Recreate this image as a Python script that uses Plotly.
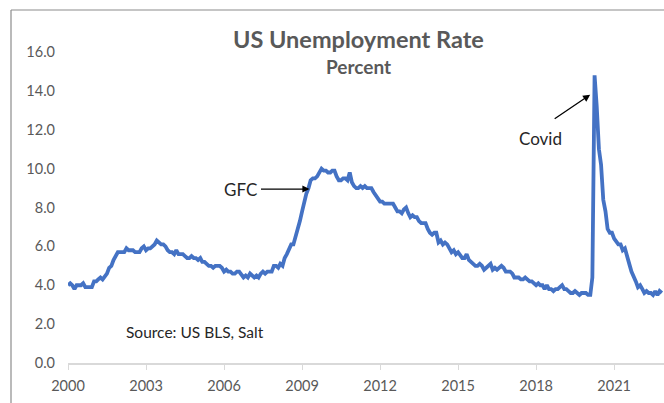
import pandas as pd
import plotly.graph_objects as go

# Monthly US unemployment rate (%), Jan 2000 - Nov 2022
rate_2000_2011 = [
    4.0, 4.1, 4.0, 3.8, 4.0, 4.0, 4.0, 4.1, 3.9, 3.9, 3.9, 3.9,
    4.2, 4.2, 4.3, 4.4, 4.3, 4.5, 4.6, 4.9, 5.0, 5.3, 5.5, 5.7,
    5.7, 5.7, 5.7, 5.9, 5.8, 5.8, 5.8, 5.7, 5.7, 5.7, 5.9, 6.0,
    5.8, 5.9, 5.9, 6.0, 6.1, 6.3, 6.2, 6.1, 6.1, 6.0, 5.8, 5.7,
    5.7, 5.6, 5.8, 5.6, 5.6, 5.6, 5.5, 5.4, 5.4, 5.5, 5.4, 5.4,
    5.3, 5.4, 5.2, 5.2, 5.1, 5.0, 5.0, 4.9, 5.0, 5.0, 5.0, 4.9,
    4.7, 4.8, 4.7, 4.7, 4.6, 4.6, 4.7, 4.7, 4.5, 4.4, 4.5, 4.4,
    4.6, 4.5, 4.4, 4.5, 4.4, 4.6, 4.7, 4.6, 4.7, 4.7, 4.7, 5.0,
    5.0, 4.9, 5.1, 5.0, 5.4, 5.6, 5.8, 6.1, 6.1, 6.5, 6.8, 7.3,
    7.8, 8.3, 8.7, 9.0, 9.4, 9.5, 9.5, 9.6, 9.8, 10.0, 9.9, 9.9,
    9.8, 9.8, 9.9, 9.9, 9.6, 9.4, 9.4, 9.5, 9.5, 9.4, 9.8, 9.3,
    9.1, 9.0, 9.0, 9.1, 9.0, 9.1, 9.0, 9.0, 9.0, 8.8, 8.6, 8.5,
]
rate_2012_2022 = [
    8.3, 8.3, 8.2, 8.2, 8.2, 8.2, 8.2, 8.0, 7.8, 7.8, 7.7, 7.9,
    8.0, 7.7, 7.5, 7.6, 7.5, 7.5, 7.3, 7.2, 7.2, 7.2, 6.9, 6.7,
    6.6, 6.7, 6.7, 6.2, 6.3, 6.1, 6.2, 6.1, 5.9, 5.7, 5.8, 5.6,
    5.7, 5.5, 5.4, 5.4, 5.6, 5.3, 5.2, 5.1, 5.0, 5.0, 5.1, 5.0,
    4.8, 4.9, 5.0, 5.1, 4.8, 4.9, 4.8, 4.9, 5.0, 4.9, 4.7, 4.7,
    4.7, 4.6, 4.4, 4.4, 4.4, 4.3, 4.3, 4.4, 4.3, 4.2, 4.2, 4.1,
    4.0, 4.1, 4.0, 4.0, 3.8, 4.0, 3.8, 3.8, 3.7, 3.8, 3.8, 3.9,
    4.0, 3.8, 3.8, 3.7, 3.6, 3.6, 3.7, 3.6, 3.5, 3.6, 3.6, 3.6,
    3.5, 3.5, 4.4, 14.8, 13.2, 11.0, 10.2, 8.4, 7.8, 6.9, 6.7, 6.7,
    6.4, 6.2, 6.1, 6.1, 5.8, 5.9, 5.4, 5.1, 4.7, 4.5, 4.2, 3.9,
    4.0, 3.8, 3.6, 3.7, 3.6, 3.6, 3.5, 3.7, 3.5, 3.7, 3.6,
]
rate = rate_2000_2011 + rate_2012_2022
months = pd.date_range("2000-01-01", periods=len(rate), freq="MS")

y_ticks = [0, 2, 4, 6, 8, 10, 12, 14, 16]
x_tick_years = [2000, 2003, 2006, 2009, 2012, 2015, 2018, 2021]

TITLE = "US Unemployment Rate"
SUBTITLE = "Percent"
SOURCE = "Source: US BLS, Salt"

W, H = 664, 403
L, R, T, B = 68, 0, 52, 40
FONT = "Lato, 'Open Sans', sans-serif"
GREY = "#595959"
INK = "#262626"


def px_x(px):
    return (px - L) / (W - L - R)


def px_y(py):
    return (H - B - py) / (H - T - B)


def label(px, py, text, size, color):
    fig.add_annotation(xref="paper", yref="paper", x=px_x(px), y=px_y(py),
                       xanchor="center", yanchor="middle",
                       text=text, showarrow=False,
                       font=dict(size=size, color=color))


fig = go.Figure()
fig.add_trace(go.Scatter(
    x=months, y=rate, mode="lines",
    line=dict(color="#4472C4", width=3.8),
    hoverinfo="skip", showlegend=False,
))

fig.update_layout(
    width=W, height=H,
    margin=dict(l=L, r=R, t=T, b=B, pad=0),
    paper_bgcolor="white", plot_bgcolor="white",
    font=dict(family=FONT, color=GREY, size=14),
    xaxis=dict(
        type="date",
        range=["2000-01-01", "2022-12-02"],
        tickvals=[f"{y}-01-01" for y in x_tick_years],
        ticktext=[str(y) for y in x_tick_years],
        showgrid=False, zeroline=False,
        showline=True, linecolor="#d9d9d9", linewidth=1.5,
        ticks="outside", ticklen=5, tickcolor="#d9d9d9", tickwidth=1,
        ticklabelstandoff=4,
        tickfont=dict(size=14.5, color=GREY),
    ),
    yaxis=dict(
        range=[0, 16],
        tickvals=y_ticks,
        ticktext=[f"{v:.1f}" for v in y_ticks],
        showgrid=False, zeroline=False, showline=False,
        ticks="", ticklabelstandoff=12,
        tickfont=dict(size=14.5, color=GREY),
    ),
)

# Chart border (left and top edges)
fig.add_shape(type="line", xref="paper", yref="paper",
              x0=px_x(11), x1=px_x(11), y0=px_y(410), y1=px_y(10),
              line=dict(color="#8c8c8c", width=1.2))
fig.add_shape(type="line", xref="paper", yref="paper",
              x0=px_x(11), x1=px_x(670), y0=px_y(10), y1=px_y(10),
              line=dict(color="#8c8c8c", width=1.2))

# Titles
label(358, 39, f"<b>{TITLE}</b>", 23.5, GREY)
label(358, 66, f"<b>{SUBTITLE}</b>", 19, GREY)

# Source note
label(195, 332, SOURCE, 15.5, INK)

# Event labels with arrows
label(240, 189, "GFC", 17, INK)
fig.add_annotation(x="2009-04-15", y=8.95, text="", showarrow=True,
                   ax=-50, ay=0, arrowhead=2, arrowsize=1.1, arrowwidth=1.3,
                   arrowcolor="black", standoff=0)
label(540, 138, "Covid", 17, INK)
fig.add_annotation(x="2020-01-30", y=13.8, text="", showarrow=True,
                   ax=-37, ay=25, arrowhead=2, arrowsize=1.1, arrowwidth=1.3,
                   arrowcolor="black", standoff=0)

fig.write_html("out.html")
